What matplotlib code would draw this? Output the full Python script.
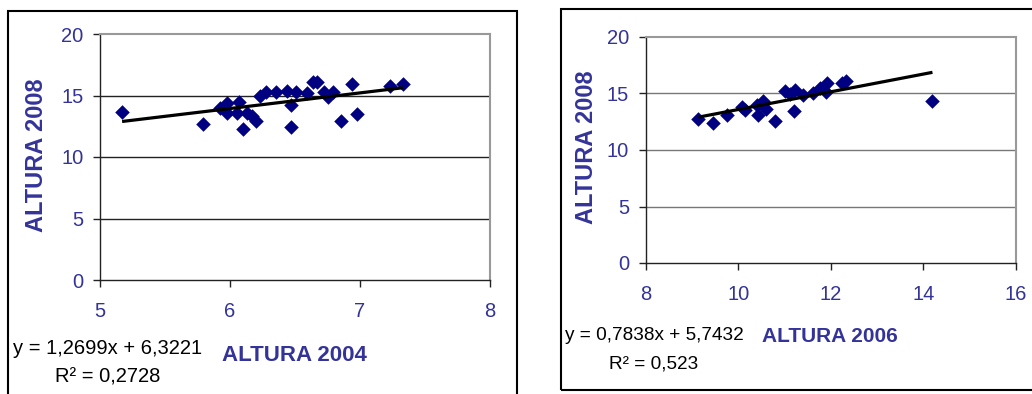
import matplotlib
matplotlib.use("Agg")
import matplotlib.pyplot as plt
from matplotlib.patches import Rectangle
import numpy as np

plt.rcParams["font.family"] = ["Liberation Sans", "DejaVu Sans"]

# ── datos ────────────────────────────────────────────────────────────────────
alt2004 = [5.17, 5.79, 5.92, 5.98, 5.98, 6.07, 6.05, 6.10, 6.13, 6.20, 6.17,
           6.23, 6.28, 6.35, 6.44, 6.47, 6.47, 6.51, 6.59, 6.64, 6.67, 6.72,
           6.75, 6.79, 6.85, 6.94, 6.98, 7.23, 7.33]
alt2008_a = [13.63, 12.66, 13.96, 14.36, 13.55, 14.50, 13.55, 12.28, 13.55,
             12.93, 13.30, 14.96, 15.26, 15.26, 15.39, 14.23, 12.47, 15.26,
             15.18, 16.07, 16.07, 15.26, 14.85, 15.26, 12.95, 15.93, 13.50,
             15.80, 15.93]

alt2006 = [9.14, 9.45, 9.76, 10.08, 10.15, 10.43, 10.40, 10.54, 10.60, 10.79,
           11.01, 11.12, 11.23, 11.21, 11.41, 11.62, 11.77, 11.91, 11.90,
           12.24, 12.32, 14.20]
alt2008_b = [12.74, 12.42, 13.10, 13.83, 13.54, 13.10, 13.98, 14.36, 13.60,
             12.60, 15.25, 14.96, 15.30, 13.48, 14.87, 15.02, 15.46, 15.90,
             15.16, 15.90, 16.13, 14.34]

fit_a = (1.2699, 6.3221, "0,2728")
fit_b = (0.7838, 5.7432, "0,523")

W, H = 1032, 394
BLUE = "#333399"
NAVY = "#000080"


def px(x, y):
    return x / W, 1 - y / H


def panel(rect, xs, ys, fit, xlim, xticks, xlab, eq_xy, lbl_coords,
          grid_col, eq_fs, xlab_fs):
    l, t, r, b = rect
    ax = fig.add_axes([l / W, 1 - b / H, (r - l) / W, (b - t) / H])
    ax.set_xlim(*xlim)
    ax.set_ylim(0, 20)
    ax.set_xticks(xticks)
    ax.set_yticks([0, 5, 10, 15, 20])
    for yv in [5, 10, 15]:
        ax.axhline(yv, color=grid_col, lw=1.0, zorder=1)
    for s in ["top", "right"]:
        ax.spines[s].set_color("#999999")
        ax.spines[s].set_linewidth(1.5)
    for s in ["left", "bottom"]:
        ax.spines[s].set_color("#222222")
        ax.spines[s].set_linewidth(1.0)
    ax.tick_params(axis="both", direction="out", length=5, width=1,
                   colors="#222222", labelcolor=BLUE, labelsize=14.5)
    ax.tick_params(axis="x", pad=11)
    ax.tick_params(axis="y", pad=7)

    ax.scatter(xs, ys, marker="D", s=55, color=NAVY, zorder=3, linewidths=0)
    m, c, r2 = fit
    xx = np.array([min(xs), max(xs)])
    ax.plot(xx, m * xx + c, color="black", lw=2.3, zorder=4,
            solid_capstyle="butt")

    ax.set_ylabel("ALTURA 2008", color=BLUE, fontsize=17, fontweight="bold",
                  va="center")
    ax.yaxis.set_label_coords(*lbl_coords[0])
    ax.set_xlabel(xlab, color=BLUE, fontsize=xlab_fs, fontweight="bold",
                  va="center")
    ax.xaxis.set_label_coords(*lbl_coords[1])

    ex, ey = eq_xy
    fig.text(*px(ex, ey), f"y = {m:.4f}x + {c:.4f}".replace(".", ","),
             ha="center", va="center", fontsize=eq_fs, color="black")
    fig.text(*px(ex, ey + 29), f"R² = {r2}", ha="center", va="center",
             fontsize=eq_fs, color="black")
    return ax


fig = plt.figure(figsize=(W / 100, H / 100), dpi=100)

# marcos exteriores
fig.patches.append(Rectangle(px(8, 400), 509 / W, 389 / H, fill=False,
                             ec="black", lw=1.5, transform=fig.transFigure))
fig.patches.append(Rectangle(px(561, 390), 500 / W, 381 / H, fill=False,
                             ec="black", lw=1.5, transform=fig.transFigure))

panel((100, 34, 490, 280), alt2004, alt2008_a, fit_a, (5, 8), [5, 6, 7, 8],
      "ALTURA 2004", (108, 348), ((-0.164, 0.508), (0.499, -0.305)),
      "#222222", 14.5, 16)
panel((645.7, 37, 1015.7, 263), alt2006, alt2008_b, fit_b, (8, 16),
      [8, 10, 12, 14, 16], "ALTURA 2006", (654, 335),
      ((-0.159, 0.513), (0.4976, -0.327)), "#777777", 13.7, 15)

fig.savefig("out.png", dpi=100)
